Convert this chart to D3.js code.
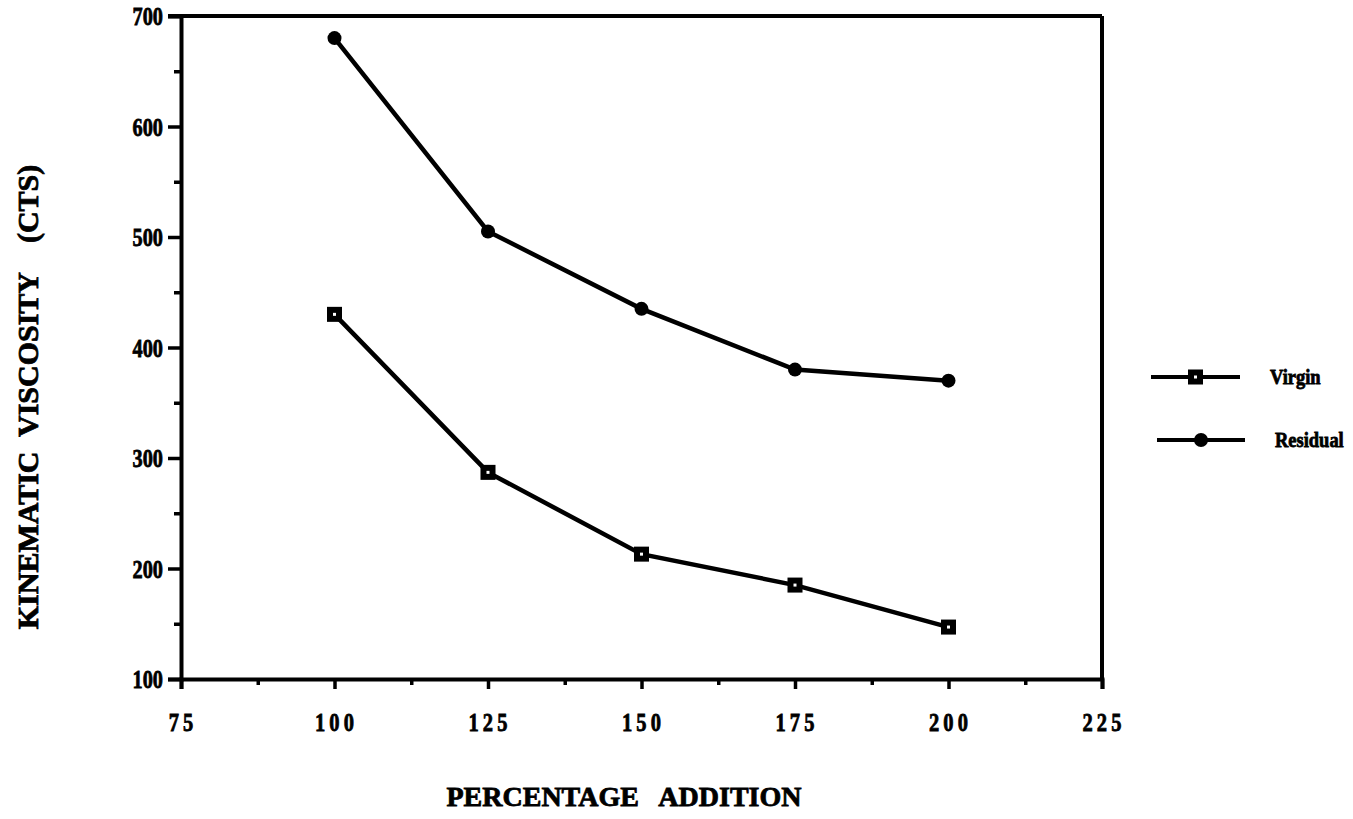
<!DOCTYPE html>
<html>
<head>
<meta charset="utf-8">
<script src="https://cdn.jsdelivr.net/npm/d3@7"></script>
<style>
  body { margin: 0; background: #fff; }
  text { font-family: "Liberation Serif", "Times New Roman", serif; font-weight: bold; fill: #000; stroke: #000; stroke-width: 0.8px; }
</style>
</head>
<body>
<div id="chart"></div>
<script>
// chart values
var categories = [100, 125, 150, 175, 200];
var virgin = [430, 287, 213, 185, 147];
var residual = [680, 505, 435, 380, 370];
var xTickLabels = [75, 100, 125, 150, 175, 200, 225];
var yTickLabels = [100, 200, 300, 400, 500, 600, 700];
var seriesNames = ["Virgin", "Residual"];

var w = 1353, h = 819,
svg = d3.select('#chart')
.append("svg")
.attr("width", w)
.attr("height", h);

var x = d3.scaleLinear().domain([75, 225]).range([181, 1102]);
var y = d3.scaleLinear().domain([100, 700]).range([679, 16]);

// frame: top and right edges
svg.append("line")
.attr("x1", x(75) - 13).attr("x2", x(225))
.attr("y1", y(700)).attr("y2", y(700))
.attr("stroke", "#000").attr("stroke-width", 4);
svg.append("line")
.attr("x1", x(225)).attr("x2", x(225))
.attr("y1", y(700)).attr("y2", y(100))
.attr("stroke", "#000").attr("stroke-width", 4);

// x axis, minor ticks every 12.5
var xAxis = svg.append("g")
.attr("transform", "translate(0," + y(100) + ")")
.call(d3.axisBottom(x).tickValues(d3.range(75, 225.1, 12.5)).tickSize(10).tickFormat(""));
xAxis.select(".domain").attr("stroke-width", 4);
xAxis.selectAll(".tick line").attr("stroke-width", 3.5);
xAxis.selectAll(".tick line").filter(function(d){ return d % 25 != 0; }).attr("y2", 6);

// squeezed tall digits like the original font
svg.selectAll(".xlab")
.data(xTickLabels)
.enter().append("text")
.attr("class", "xlab")
.attr("transform", function(d){ return "translate(" + (x(d) + 2) + ",731) scale(0.82,1)"; })
.attr("text-anchor", "middle")
.style("font-size", "25px")
.style("letter-spacing", "5px")
.text(function(d){ return d; });

// y axis, minor ticks every 50
var yAxis = svg.append("g")
.attr("transform", "translate(" + x(75) + ",0)")
.call(d3.axisLeft(y).tickValues(d3.range(100, 700.1, 50)).tickSize(13).tickFormat(""));
yAxis.select(".domain").attr("stroke-width", 4);
yAxis.selectAll(".tick line").attr("stroke-width", 3.5);
yAxis.selectAll(".tick line").filter(function(d){ return d % 100 != 0; }).attr("x2", -7);

svg.selectAll(".ylab")
.data(yTickLabels)
.enter().append("text")
.attr("class", "ylab")
.attr("transform", function(d){ return "translate(163," + (y(d) + 9) + ") scale(0.78,1)"; })
.attr("text-anchor", "end")
.style("font-size", "26px")
.text(function(d){ return d; });

// axis titles
svg.append("text")
.attr("x", 624).attr("y", 806)
.attr("text-anchor", "middle")
.style("font-size", "28px")
.attr("xml:space", "preserve")
.text("PERCENTAGE   ADDITION");

svg.append("text")
.attr("transform", "translate(38,397) rotate(-90)")
.attr("text-anchor", "middle")
.style("font-size", "30px")
.attr("xml:space", "preserve")
.text("KINEMATIC  VISCOSITY    (CTS)");

// series
var line = d3.line()
.x(function(d, i){ return x(categories[i]); })
.y(function(d){ return y(d); });

[virgin, residual].forEach(function(s){
    svg.append("path")
    .attr("d", line(s))
    .attr("fill", "none")
    .attr("stroke", "#000")
    .attr("stroke-width", 4.5);
});

function squareMark(g, cx, cy){
    g.append("rect").attr("x", cx - 7.5).attr("y", cy - 7.5).attr("width", 15).attr("height", 15).attr("fill", "#000");
    g.append("rect").attr("x", cx - 1.5).attr("y", cy - 1.5).attr("width", 3).attr("height", 3).attr("fill", "#fff");
}
function dotMark(g, cx, cy){
    g.append("circle").attr("cx", cx).attr("cy", cy).attr("r", 7).attr("fill", "#000");
}

virgin.forEach(function(v, i){ squareMark(svg, x(categories[i]), y(v)); });
residual.forEach(function(v, i){ dotMark(svg, x(categories[i]), y(v)); });

// legend
var legend = [
    {name: seriesNames[0], x1: 1151, x2: 1240, y: 377, mark: squareMark},
    {name: seriesNames[1], x1: 1157, x2: 1245, y: 440, mark: dotMark}
];
legend.forEach(function(l){
    svg.append("line")
    .attr("x1", l.x1).attr("x2", l.x2)
    .attr("y1", l.y).attr("y2", l.y)
    .attr("stroke", "#000").attr("stroke-width", 4);
    l.mark(svg, (l.x1 + l.x2) / 2, l.y);
    svg.append("text")
    .attr("transform", "translate(" + (l.x2 + 30) + "," + (l.y + 7) + ") scale(0.88,1)")
    .style("font-size", "21px")
    .text(l.name);
});
</script>
</body>
</html>
